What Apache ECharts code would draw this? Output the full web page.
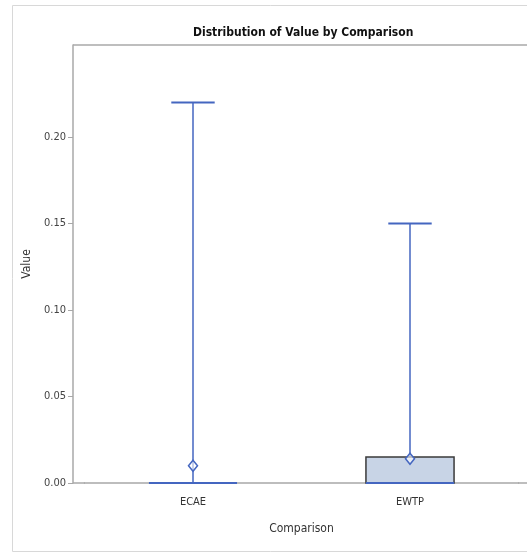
<!DOCTYPE html>
<html>
<head>
<meta charset="utf-8">
<script src="https://cdn.jsdelivr.net/npm/echarts@6.0.0/dist/echarts.min.js"></script>
<style>
  html, body { margin: 0; padding: 0; background: #fff; }
  #box-chart { width: 527px; height: 553px; }
</style>
</head>
<body>
<div id="box-chart"></div>
<script>
var chartDom = document.getElementById('box-chart');
var myChart = echarts.init(chartDom);
var option;

var categories = ['ECAE', 'EWTP'];
var whiskerLow = [0, 0];
var q1 = [0, 0];
var median = [0, 0];
var q3 = [0, 0.015];
var whiskerHigh = [0.22, 0.15];
var means = [0.0100, 0.0140];
var yTicks = [0, 0.05, 0.10, 0.15, 0.20];

var narrow = '"DejaVu Sans Condensed", "Liberation Sans Narrow", sans-serif';
var blue = '#4466c0';

var boxData = categories.map(function (c, i) {
  return [i, whiskerLow[i], q1[i], median[i], q3[i], whiskerHigh[i], means[i]];
});

function renderBox(params, api) {
  var i = api.value(0);
  var x = api.coord([i, 0])[0];
  var y = function (d) { return api.coord([i, api.value(d)])[1]; };
  var band = api.size([1, 0])[0];
  var halfBox = band * 0.203;
  var halfCap = band * 0.1;
  var yLow = y(1), yQ1 = y(2), yMed = y(3), yQ3 = y(4), yHigh = y(5), yMean = y(6);
  var children = [];
  children.push({
    type: 'line',
    shape: { x1: x, y1: yQ3, x2: x, y2: yHigh },
    style: { stroke: blue, lineWidth: 1.5 }
  });
  children.push({
    type: 'line',
    shape: { x1: x, y1: yLow, x2: x, y2: yQ1 },
    style: { stroke: blue, lineWidth: 1.5 }
  });
  children.push({
    type: 'line',
    shape: { x1: x - halfCap, y1: yHigh, x2: x + halfCap, y2: yHigh },
    style: { stroke: blue, lineWidth: 2 }
  });
  if (yQ1 - yQ3 > 0.5) {
    children.push({
      type: 'rect',
      shape: { x: x - halfBox, y: yQ3, width: halfBox * 2, height: yQ1 - yQ3 },
      style: { fill: '#c8d4e6', stroke: '#3a3a3a', lineWidth: 1.5 }
    });
  }
  children.push({
    type: 'line',
    shape: { x1: x - halfBox, y1: yMed, x2: x + halfBox, y2: yMed },
    style: { stroke: blue, lineWidth: 2 }
  });
  children.push({
    type: 'polygon',
    shape: { points: [[x, yMean - 5.5], [x + 4.5, yMean], [x, yMean + 5.5], [x - 4.5, yMean]] },
    style: { fill: 'rgba(255,255,255,0.6)', stroke: blue, lineWidth: 1.5 }
  });
  return { type: 'group', children: children };
}

option = {
  animation: false,
  backgroundColor: '#fff',
  title: {
    text: 'Distribution of Value by Comparison',
    left: 188,
    top: 22,
    textStyle: { fontFamily: narrow, fontWeight: 'bold', fontSize: 12, color: '#111' }
  },
  grid: { left: 84.5, right: 8.5, top: 45, bottom: 70 },
  xAxis: {
    type: 'category',
    data: categories,
    name: 'Comparison',
    nameLocation: 'middle',
    nameGap: 40,
    nameTextStyle: { fontFamily: narrow, fontSize: 12, color: '#333' },
    axisLine: { lineStyle: { color: '#a8a8a8', width: 1.5 } },
    axisTick: { alignWithLabel: true, length: 6, lineStyle: { color: '#a8a8a8' } },
    axisLabel: { fontFamily: narrow, fontSize: 11, color: '#333', margin: 14 }
  },
  yAxis: {
    type: 'value',
    min: 0,
    max: 0.2532,
    interval: 0.05,
    offset: 11.5,
    name: 'Value',
    nameLocation: 'middle',
    nameGap: 39,
    nameTextStyle: { fontFamily: narrow, fontSize: 12, color: '#333' },
    axisLine: { show: true, lineStyle: { color: '#a8a8a8', width: 1.5 } },
    axisTick: { show: true, length: 5, customValues: yTicks, lineStyle: { color: '#a8a8a8' } },
    axisLabel: {
      fontFamily: narrow, fontSize: 11, color: '#444', margin: 7,
      customValues: yTicks,
      formatter: function (v) { return v.toFixed(2); }
    },
    splitLine: { show: false }
  },
  graphic: [
    { type: 'rect', shape: { x: 12.5, y: 5.5, width: 530, height: 546 }, style: { fill: 'none', stroke: '#d8d8d8', lineWidth: 1 }, z: -1 },
    { type: 'line', shape: { x1: 73, y1: 45, x2: 527, y2: 45 }, style: { stroke: '#a8a8a8', lineWidth: 1.5 } },
    { type: 'line', shape: { x1: 73, y1: 483, x2: 85, y2: 483 }, style: { stroke: '#a8a8a8', lineWidth: 1.5 } },
    { type: 'line', shape: { x1: 518, y1: 483, x2: 527, y2: 483 }, style: { stroke: '#a8a8a8', lineWidth: 1.5 } }
  ],
  series: [
    {
      type: 'custom',
      renderItem: renderBox,
      encode: { x: 0, y: [1, 2, 3, 4, 5, 6] },
      data: boxData,
      z: 10
    }
  ]
};

option && myChart.setOption(option);
</script>
</body>
</html>
